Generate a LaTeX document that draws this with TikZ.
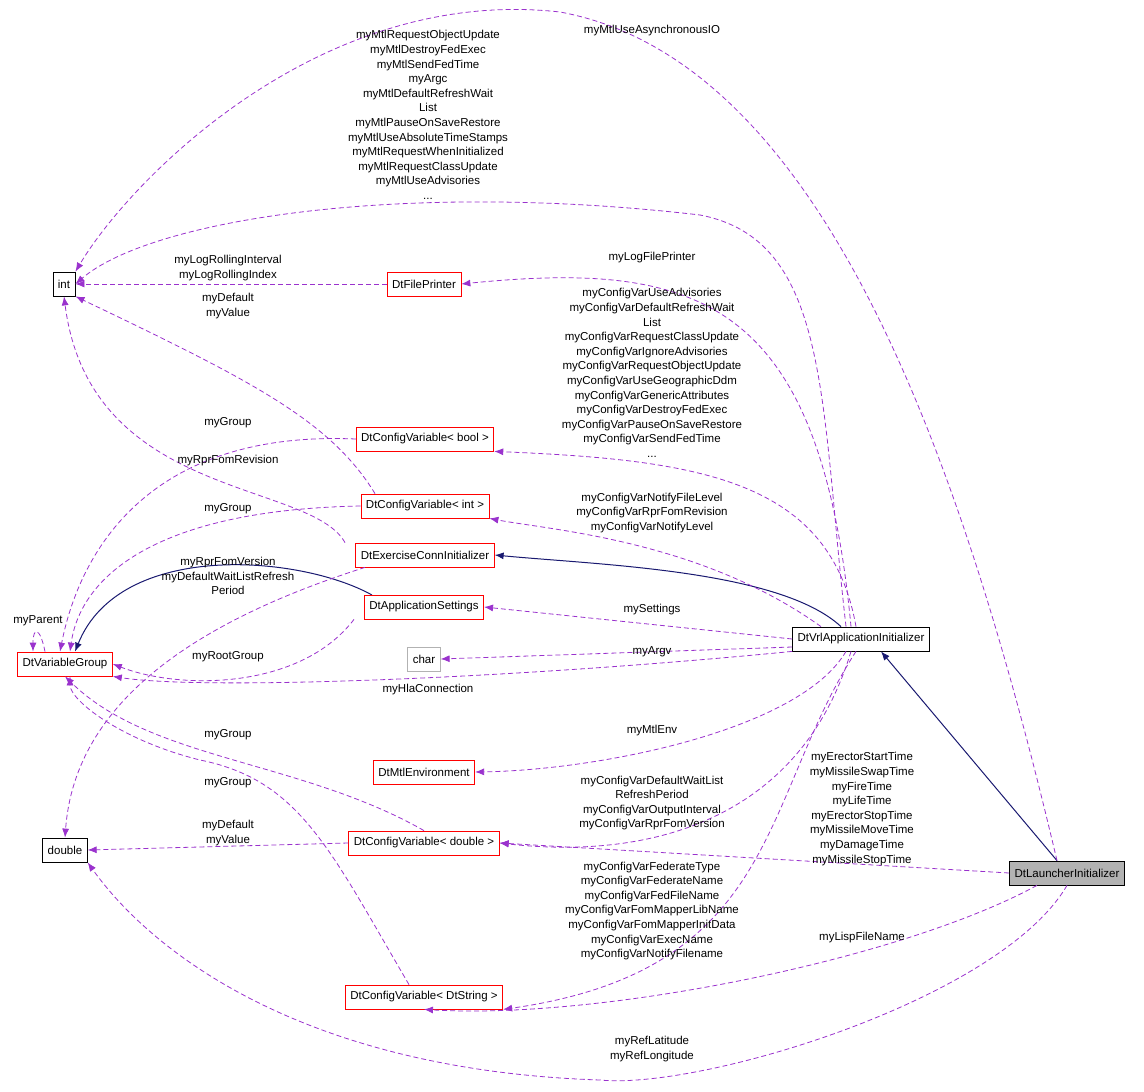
\documentclass[tikz,border=0pt]{standalone}
\usepackage{fontspec}
\setmainfont{Liberation Sans}
\usetikzlibrary{arrows.meta}
\definecolor{dep}{HTML}{9A32CD}
\definecolor{inh}{HTML}{191970}
\tikzset{
  cls/.style={draw=red, fill=white, rectangle, minimum height=24pt, inner sep=5pt, line width=0.8pt, font=\fontsize{11.5}{13}\selectfont},
  lbl/.style={align=center, font=\fontsize{11.5}{14.6}\selectfont, inner sep=0pt},
  use/.style={dashed, dep, line width=0.8pt, dash pattern=on 5pt off 3pt, -{Latex[length=9pt,width=7pt]}},
  isa/.style={inh, line width=1pt, -{Latex[length=9pt,width=7pt]}}
}
\begin{document}
\begin{tikzpicture}[x=1pt,y=-1pt]
\useasboundingbox (0,0) rectangle (1144,1092);
% classes
\node[cls, draw=black] (int) at (64,284) {int};
\node[cls, draw=black] (dbl) at (65,850) {double};
\node[cls] (varg) at (65,664) {DtVariableGroup};
\node[cls] (fp) at (424,284) {DtFilePrinter};
\node[cls] (cbool) at (425,439) {DtConfigVariable< bool >};
\node[cls] (cint) at (425,506) {DtConfigVariable< int >};
\node[cls] (exec) at (425,555) {DtExerciseConnInitializer};
\node[cls] (chr) at (424,659) [draw=gray!60] {char};
\node[cls] (mtl) at (424,772) {DtMtlEnvironment};
\node[cls] (cdbl) at (424,843) {DtConfigVariable< double >};
\node[cls] (cstr) at (424,997) {DtConfigVariable< DtString >};
\node[cls, draw=black] (vrl) at (861,639) {DtVrlApplicationInitializer};
\node[cls, draw=black, fill=gray!60] (launch) at (1067,873) {DtLauncherInitializer};

% inheritance
\draw[isa] ([xshift=-20]vrl.north) .. controls (780,570) and (600,565) .. (exec.east);
\draw[isa] ([xshift=-10]launch.north) -- ([xshift=20]vrl.south);
\draw[isa] (372,595) .. controls (300,555) and (120,540) .. ([xshift=10]varg.north);
\node[cls] (appset) at (424,607) {DtApplicationSettings};

% usage
\draw[use] ([xshift=-10]launch.north) .. controls (960,450) and (820,60) .. (560,12)
  .. controls (320,-15) and (130,180) .. (int.north east);
\draw[use] ([xshift=-15]vrl.north) .. controls (820,400) and (830,240) .. (700,215)
  .. controls (400,180) and (150,220) .. (int.east);
\draw[use] (fp.west) -- (int.east);
\draw[use] ([xshift=-50]cint.north) .. controls (330,420) and (250,380) .. (int.south east);
\draw[use] (cbool.west) .. controls (150,430) and (80,550) .. ([xshift=-5]varg.north);
\draw[use] ([xshift=-80]exec.north) .. controls (310,480) and (90,500) .. (int.south);
\draw[use] (cint.west) .. controls (150,510) and (80,580) .. ([xshift=5]varg.north);
\draw[use] ([xshift=-20]varg.north) .. controls +(-5,-25) and +(0,-25) .. ([xshift=-32]varg.north);
\draw[use] ([xshift=-60]exec.south) .. controls (200,620) and (75,700) .. (dbl.north);
\draw[use] ([xshift=-70]appset.south) .. controls (300,690) and (180,690) .. (varg.east);
\draw[use] (vrl.south west) .. controls (500,680) and (200,690) .. (varg.south east);
\draw[use] ([xshift=-10]vrl.north) .. controls (820,300) and (700,260) .. (fp.east);
\draw[use] ([xshift=-5]vrl.north) .. controls (830,480) and (700,460) .. (cbool.south east);
\draw[use] ([xshift=-40]vrl.north) .. controls (700,540) and (550,530) .. (cint.south east);
\draw[use] (vrl.west) -- (appset.east);
\draw[use] ([yshift=-8]vrl.west) -- (chr.east);
\draw[use] ([xshift=-15]vrl.south) .. controls (800,730) and (600,770) .. (mtl.east);
\draw[use] ([xshift=-10]vrl.south) .. controls (800,820) and (650,860) .. (cdbl.east);
\draw[use] ([xshift=-5]vrl.south) .. controls (760,800) and (780,970) .. (cstr.south east);
\draw[use] (launch.west) -- (cdbl.east);
\draw[use] ([xshift=-30]launch.south) .. controls (900,960) and (600,1020) .. (cstr.south);
\draw[use] (launch.south) .. controls (1000,1000) and (700,1090) .. (600,1080)
  .. controls (300,1070) and (150,950) .. (dbl.south east);
\draw[use] (cdbl.north) .. controls (300,760) and (150,760) .. (varg.south);
\draw[use] ([xshift=-15]cstr.north) .. controls (330,850) and (300,780) .. (200,760)
  .. controls (120,740) and (70,700) .. ([xshift=5]varg.south);
\draw[use] (cdbl.west) -- (dbl.east);

% labels
\node[lbl] (lAsync) at (652,31) {myMtlUseAsynchronousIO};
\node[lbl] (lMtl) at (428,115) {myMtlRequestObjectUpdate\\myMtlDestroyFedExec\\myMtlSendFedTime\\myArgc\\myMtlDefaultRefreshWait\\List\\myMtlPauseOnSaveRestore\\myMtlUseAbsoluteTimeStamps\\myMtlRequestWhenInitialized\\myMtlRequestClassUpdate\\myMtlUseAdvisories\\...};
\node[lbl] (lLog) at (228,268) {myLogRollingInterval\\myLogRollingIndex};
\node[lbl] (lIntVal) at (228,306) {myDefault\\myValue};
\node[lbl] (lGrp1) at (228,423) {myGroup};
\node[lbl] (lRev) at (228,461) {myRprFomRevision};
\node[lbl] (lGrp2) at (228,509) {myGroup};
\node[lbl] (lVer) at (228,576) {myRprFomVersion\\myDefaultWaitListRefresh\\Period};
\node[lbl] (lPar) at (38,621) {myParent};
\node[lbl] (lRoot) at (228,657) {myRootGroup};
\node[lbl] (lHla) at (428,690) {myHlaConnection};
\node[lbl] (lGrp3) at (228,735) {myGroup};
\node[lbl] (lGrp4) at (228,783) {myGroup};
\node[lbl] (lDblVal) at (228,833) {myDefault\\myValue};
\node[lbl] (lFp) at (652,258) {myLogFilePrinter};
\node[lbl] (lBool) at (652,373) {myConfigVarUseAdvisories\\myConfigVarDefaultRefreshWait\\List\\myConfigVarRequestClassUpdate\\myConfigVarIgnoreAdvisories\\myConfigVarRequestObjectUpdate\\myConfigVarUseGeographicDdm\\myConfigVarGenericAttributes\\myConfigVarDestroyFedExec\\myConfigVarPauseOnSaveRestore\\myConfigVarSendFedTime\\...};
\node[lbl] (lInt) at (652,513) {myConfigVarNotifyFileLevel\\myConfigVarRprFomRevision\\myConfigVarNotifyLevel};
\node[lbl] (lSet) at (652,610) {mySettings};
\node[lbl] (lArgv) at (652,652) {myArgv};
\node[lbl] (lEnv) at (652,731) {myMtlEnv};
\node[lbl] (lDbl) at (652,803) {myConfigVarDefaultWaitList\\RefreshPeriod\\myConfigVarOutputInterval\\myConfigVarRprFomVersion};
\node[lbl] (lStr) at (652,911) {myConfigVarFederateType\\myConfigVarFederateName\\myConfigVarFedFileName\\myConfigVarFomMapperLibName\\myConfigVarFomMapperInitData\\myConfigVarExecName\\myConfigVarNotifyFilename};
\node[lbl] (lLDbl) at (862,809) {myErectorStartTime\\myMissileSwapTime\\myFireTime\\myLifeTime\\myErectorStopTime\\myMissileMoveTime\\myDamageTime\\myMissileStopTime};
\node[lbl] (lLisp) at (862,938) {myLispFileName};
\node[lbl] (lRef) at (652,1049) {myRefLatitude\\myRefLongitude};
\end{tikzpicture}
\end{document}
